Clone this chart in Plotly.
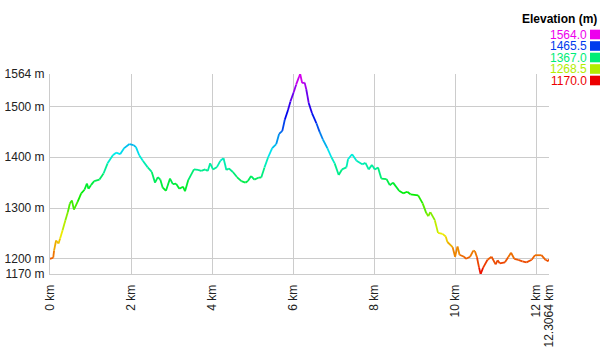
import colorsys
import plotly.graph_objects as go

dist_km = [0, 0.08, 0.1, 0.15, 0.21, 0.25, 0.31, 0.38, 0.44, 0.49, 0.54, 0.59, 0.68, 0.77, 0.85, 0.91, 0.95,
           1.01, 1.09, 1.22, 1.32, 1.42, 1.55, 1.63, 1.73, 1.83, 1.96, 2.06, 2.12, 2.2, 2.29, 2.41, 2.51,
           2.59, 2.66, 2.72, 2.78, 2.86, 2.96, 3.03, 3.11, 3.19, 3.28, 3.33, 3.41, 3.55, 3.65, 3.73, 3.83,
           3.89, 3.95, 4.02, 4.12, 4.2, 4.28, 4.35, 4.41, 4.51, 4.61, 4.72, 4.82, 4.88, 4.96, 5.04, 5.15,
           5.21, 5.29, 5.38, 5.48, 5.58, 5.65, 5.73, 5.79, 5.87, 5.93, 6.01, 6.07, 6.14, 6.17, 6.22, 6.28,
           6.32, 6.38, 6.46, 6.57, 6.65, 6.73, 6.84, 6.94, 7.02, 7.12, 7.2, 7.31, 7.35, 7.45, 7.56, 7.70,
           7.78, 7.86, 7.94, 8.01, 8.09, 8.17, 8.30, 8.38, 8.46, 8.61, 8.71, 8.81, 8.89, 9.08, 9.19, 9.28,
           9.33, 9.38, 9.49, 9.57, 9.68, 9.76, 9.80, 9.93, 9.99, 10.05, 10.1, 10.21, 10.26, 10.36, 10.44,
           10.48, 10.53, 10.58, 10.62, 10.68, 10.79, 10.89, 10.99, 11.04, 11.09, 11.22, 11.30, 11.37, 11.45,
           11.55, 11.65, 11.75, 11.88, 11.96, 12.12, 12.22, 12.29, 12.3064]

elev_m = [1200, 1202, 1216, 1236, 1230, 1240, 1256, 1276, 1292, 1309, 1315, 1297, 1312, 1329, 1336, 1348, 1338,
          1345, 1353, 1356, 1368, 1388, 1404, 1409, 1406, 1418, 1426, 1424, 1420, 1404, 1393, 1380, 1371,
          1350, 1361, 1356, 1340, 1334, 1358, 1347, 1348, 1338, 1342, 1333, 1355, 1376, 1375, 1373, 1376,
          1373, 1388, 1376, 1381, 1393, 1398, 1375, 1378, 1371, 1361, 1353, 1350, 1353, 1363, 1356, 1360,
          1360, 1380, 1400, 1418, 1426, 1446, 1452, 1474, 1493, 1510, 1528, 1543, 1558, 1564, 1546, 1547,
          1534, 1507, 1487, 1467, 1450, 1435, 1418, 1400, 1388, 1365, 1376, 1380, 1396, 1406, 1393, 1386,
          1389, 1376, 1385, 1376, 1380, 1358, 1357, 1345, 1350, 1334, 1329, 1332, 1327, 1325, 1309, 1290,
          1284, 1292, 1276, 1251, 1249, 1244, 1233, 1223, 1204, 1224, 1208, 1204, 1200, 1204, 1216,
          1215, 1203, 1183, 1170, 1182, 1198, 1204, 1189, 1197, 1191, 1193, 1203, 1212, 1200,
          1198, 1195, 1193, 1198, 1207, 1207, 1198, 1195, 1199]

y_ticks = [1170, 1200, 1300, 1400, 1500, 1564]
y_tick_labels = ["1170 m", "1200 m", "1300 m", "1400 m", "1500 m", "1564 m"]
x_ticks = [0, 2, 4, 6, 8, 10, 12, 12.3064]
x_tick_labels = ["0 km", "2 km", "4 km", "6 km", "8 km", "10 km", "12 km", "12.3064 km"]
legend_values = [1564.0, 1465.5, 1367.0, 1268.5, 1170.0]

E_MIN, E_MAX = 1170.0, 1564.0

W, H = 601, 349
ML, MR, MT, MB = 50, 52, 74, 75
PW, PH = W - ML - MR, H - MT - MB


def px_x(x):
    return (x - ML) / PW


def px_y(y):
    return (H - MB - y) / PH


def elev_color(e):
    t = (e - E_MIN) / (E_MAX - E_MIN)
    t = max(0.0, min(1.0, t))
    r, g, b = colorsys.hsv_to_rgb(t * 300.0 / 360.0, 1.0, 0.93)
    return "rgb(%d,%d,%d)" % (round(r * 255), round(g * 255), round(b * 255))


fig = go.Figure()
for i in range(len(dist_km) - 1):
    mid = (elev_m[i] + elev_m[i + 1]) / 2.0
    fig.add_trace(go.Scatter(
        x=[dist_km[i], dist_km[i + 1]], y=[elev_m[i], elev_m[i + 1]],
        mode="lines", line=dict(color=elev_color(mid), width=1.8),
        showlegend=False, hoverinfo="skip", cliponaxis=False))

annotations = [dict(x=px_x(599), y=px_y(19), xref="paper", yref="paper",
                    text="<b>Elevation (m)</b>", showarrow=False, xanchor="right", yanchor="middle",
                    font=dict(size=12, color="#000000", family="Liberation Sans, Arial"))]
shapes = []
for k, v in enumerate(legend_values):
    yc = 34.5 + k * 11.5
    col = elev_color(v)
    annotations.append(dict(x=px_x(589), y=px_y(yc), xref="paper", yref="paper",
                            text="%.1f" % v, showarrow=False, xanchor="right", yanchor="middle",
                            font=dict(size=12, color=col, family="Liberation Sans, Arial")))
    shapes.append(dict(type="rect", xref="paper", yref="paper",
                       x0=px_x(590), x1=px_x(600), y0=px_y(yc - 4.8), y1=px_y(yc + 4.8),
                       fillcolor=col, line=dict(width=0)))

fig.update_layout(
    width=W, height=H,
    margin=dict(l=ML, r=MR, t=MT, b=MB),
    paper_bgcolor="white", plot_bgcolor="white",
    font=dict(family="Liberation Sans, Arial", size=12, color="#222222"),
    annotations=annotations, shapes=shapes,
    xaxis=dict(range=[0, 12.3064], tickmode="array", tickvals=x_ticks, ticktext=x_tick_labels,
               tickangle=-90, showgrid=True, gridcolor="#cccccc", gridwidth=1, zeroline=False,
               showline=True, linecolor="#cccccc", automargin=False,
               ticks="outside", ticklen=5, tickcolor="rgba(0,0,0,0)", fixedrange=True),
    yaxis=dict(range=[1170, 1564], tickmode="array", tickvals=y_ticks, ticktext=y_tick_labels,
               showgrid=True, gridcolor="#cccccc", gridwidth=1, zeroline=False,
               showline=True, linecolor="#cccccc", automargin=False,
               ticks="outside", ticklen=2, tickcolor="rgba(0,0,0,0)", fixedrange=True),
)

fig.write_html("out.html", config={"displayModeBar": False},
               post_script="document.body.style.margin='0';document.body.style.padding='0';")
